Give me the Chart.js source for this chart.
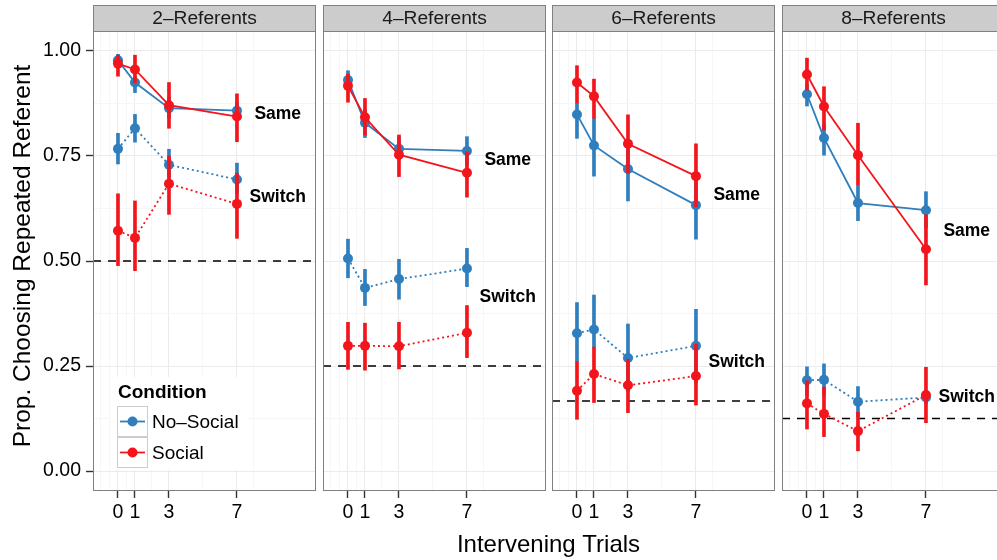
<!DOCTYPE html>
<html><head><meta charset="utf-8">
<script src="https://cdn.jsdelivr.net/npm/chart.js@4.4.1/dist/chart.umd.min.js"></script>
<style>
html,body{margin:0;padding:0;background:#fff;width:997px;height:560px;overflow:hidden;}
canvas{position:absolute;left:0;top:0;}
</style></head><body>
<canvas id="c0" width="1010" height="560"></canvas>
<canvas id="c1" width="1010" height="560"></canvas>
<canvas id="c2" width="1010" height="560"></canvas>
<canvas id="c3" width="1010" height="560"></canvas>
<script>
// ---------------- DATA ----------------
const panelTitles = ['2–Referents', '4–Referents', '6–Referents', '8–Referents'];
const trials = [0, 1, 3, 7];
const chanceLevel = [0.5, 0.25, 0.1667, 0.125];
const yTicks = [0, 0.25, 0.5, 0.75, 1];
const conditions = ['No–Social', 'Social'];
const xTitle = 'Intervening Trials';
const yTitle = 'Prop. Choosing Repeated Referent';
const lineLabels = ['Same', 'Switch'];

// No-Social, Same referent
const noSocialSame     = [[0.978,0.925,0.864,0.858],[0.931,0.829,0.767,0.762],[0.849,0.775,0.719,0.633],[0.897,0.793,0.638,0.621]];
const noSocialSameLow  = [[0.962,0.901,0.840,0.835],[0.910,0.794,0.740,0.728],[0.792,0.702,0.643,0.552],[0.869,0.752,0.596,0.580]];
const noSocialSameHigh = [[0.992,0.940,0.890,0.878],[0.953,0.860,0.795,0.796],[0.874,0.840,0.780,0.700],[0.920,0.825,0.680,0.665]];
// Social, Same referent
const socialSame     = [[0.970,0.956,0.871,0.844],[0.917,0.842,0.753,0.710],[0.925,0.892,0.779,0.702],[0.944,0.868,0.752,0.528]];
const socialSameLow  = [[0.940,0.924,0.816,0.784],[0.878,0.800,0.701,0.652],[0.875,0.840,0.709,0.629],[0.907,0.812,0.681,0.443]];
const socialSameHigh = [[0.990,0.990,0.925,0.898],[0.945,0.887,0.800,0.760],[0.965,0.933,0.848,0.779],[0.983,0.915,0.828,0.610]];
// No-Social, Switch
const noSocialSwitch     = [[0.767,0.816,0.729,0.694],[0.506,0.436,0.457,0.482],[0.328,0.337,0.269,0.298],[0.216,0.217,0.165,0.175]];
const noSocialSwitchLow  = [[0.731,0.783,0.700,0.660],[0.460,0.394,0.409,0.439],[0.260,0.295,0.190,0.210],[0.180,0.180,0.130,0.160]];
const noSocialSwitchHigh = [[0.804,0.849,0.766,0.733],[0.552,0.480,0.504,0.530],[0.401,0.419,0.350,0.385],[0.248,0.255,0.201,0.190]];
// Social, Switch
const socialSwitch     = [[0.572,0.555,0.684,0.636],[0.298,0.298,0.297,0.329],[0.191,0.231,0.204,0.226],[0.161,0.136,0.095,0.181]];
const socialSwitchLow  = [[0.489,0.477,0.611,0.554],[0.242,0.240,0.243,0.270],[0.123,0.163,0.139,0.157],[0.100,0.082,0.048,0.115]];
const socialSwitchHigh = [[0.660,0.643,0.750,0.709],[0.354,0.352,0.354,0.394],[0.260,0.295,0.266,0.302],[0.215,0.200,0.140,0.247]];

// label anchor values (y) for "Same" / "Switch"
const sameLabelY   = [0.850, 0.739, 0.657, 0.572];
const switchLabelY = [0.652, 0.414, 0.258, 0.175];
const labelX = 9.4;

// ---------------- STYLE / LAYOUT ----------------
const FONT = "'Liberation Sans', Arial, Helvetica, sans-serif";
Chart.defaults.font.family = FONT;
const BLUE = '#2F7EBD';
const RED  = '#F3151C';
const W = 1010;
const panelLeft  = [93, 323, 552, 782];
const panelWidth = 223;
const X_MIN = -1.47, X_MAX = 11.65;
const Y_MIN = -0.0476, Y_MAX = 1.0476;
const xGrid = [-1, -0.5, 0, 0.5, 1, 2, 3, 5, 7, 8];
const yGrid = [0, 0.125, 0.25, 0.375, 0.5, 0.625, 0.75, 0.875, 1];
const isXMajor = v => trials.includes(v);
const isYMajor = v => yTicks.some(t => Math.abs(t - v) < 1e-9);

function pts(vals) { return trials.map((t, k) => ({x: t, y: vals[k]})); }
function bars(lo, hi) { return trials.map((t, k) => ({x: t, y: [lo[k], hi[k]]})); }

function lineDs(vals, color, dashed, order) {
  return {type: 'line', data: pts(vals), borderColor: color, backgroundColor: color,
    borderWidth: 1.8, borderDash: dashed ? [2, 3] : [], pointRadius: 5, pointBorderWidth: 0,
    pointBackgroundColor: color, tension: 0, order};
}
function errDs(lo, hi, color, order) {
  return {type: 'bar', data: bars(lo, hi), backgroundColor: color, borderWidth: 0,
    barThickness: 3, grouped: false, order};
}

function facetPlugin(i) {
  return {
    id: 'facet' + i,
    afterDraw(chart) {
      const {ctx, chartArea: a, scales: {x, y}} = chart;
      ctx.save();
      // panel border
      ctx.strokeStyle = '#808080'; ctx.lineWidth = 1;
      ctx.strokeRect(a.left + 0.5, a.top + 0.5, a.right - a.left - 1, a.bottom - a.top - 1);
      // strip
      ctx.fillStyle = '#CCCCCC';
      ctx.fillRect(a.left, 5, a.right - a.left, a.top - 5);
      ctx.strokeRect(a.left + 0.5, 5.5, a.right - a.left - 1, a.top - 5);
      ctx.fillStyle = '#1a1a1a';
      ctx.font = '19.2px ' + FONT;
      ctx.textAlign = 'center'; ctx.textBaseline = 'middle';
      ctx.fillText(panelTitles[i], (a.left + a.right) / 2, 19);
      // Same / Switch labels
      ctx.fillStyle = '#000';
      ctx.font = 'bold 17.5px ' + FONT;
      ctx.fillText(lineLabels[0], x.getPixelForValue(labelX), y.getPixelForValue(sameLabelY[i]));
      ctx.fillText(lineLabels[1], x.getPixelForValue(labelX), y.getPixelForValue(switchLabelY[i]));
      if (i === 0) {
        // legend
        ctx.fillStyle = '#fff';
        ctx.fillRect(110, 377, 137, 93);
        ctx.fillStyle = '#000';
        ctx.textAlign = 'left';
        ctx.font = 'bold 19px ' + FONT;
        ctx.fillText('Condition', 118, 393);
        const cols = [BLUE, RED];
        const keyTop = [406, 437];
        for (let k = 0; k < 2; k++) {
          ctx.fillStyle = '#fff';
          ctx.fillRect(117, keyTop[k], 31, 31);
          ctx.strokeStyle = '#CCCCCC'; ctx.lineWidth = 1;
          ctx.strokeRect(117.5, keyTop[k] + 0.5, 30, 30);
          const cy = keyTop[k] + 15.5;
          ctx.strokeStyle = cols[k]; ctx.lineWidth = 1.8;
          ctx.beginPath(); ctx.moveTo(120, cy); ctx.lineTo(145, cy); ctx.stroke();
          ctx.fillStyle = cols[k];
          ctx.beginPath(); ctx.arc(132.5, cy, 5, 0, Math.PI * 2); ctx.fill();
          ctx.fillStyle = '#000';
          ctx.font = '19px ' + FONT;
          ctx.fillText(conditions[k], 152, cy + 1);
        }
        // axis titles
        ctx.fillStyle = '#000';
        ctx.font = '24px ' + FONT;
        ctx.textAlign = 'center'; ctx.textBaseline = 'alphabetic';
        ctx.fillText(xTitle, 548.5, 552);
        ctx.font = '24.5px ' + FONT;
        ctx.translate(30, 256);
        ctx.rotate(-Math.PI / 2);
        ctx.fillText(yTitle, 0, 0);
      }
      ctx.restore();
    }
  };
}

function makeChart(i) {
  const datasets = [
    {type: 'line', data: [{x: X_MIN, y: chanceLevel[i]}, {x: X_MAX, y: chanceLevel[i]}],
     borderColor: '#000', borderWidth: 1.4, borderDash: [8, 7], pointRadius: 0, order: 20},
    errDs(noSocialSameLow[i], noSocialSameHigh[i], BLUE, 19),
    errDs(noSocialSwitchLow[i], noSocialSwitchHigh[i], BLUE, 18),
    lineDs(noSocialSame[i], BLUE, false, 17),
    lineDs(noSocialSwitch[i], BLUE, true, 16),
    errDs(socialSameLow[i], socialSameHigh[i], RED, 15),
    errDs(socialSwitchLow[i], socialSwitchHigh[i], RED, 14),
    lineDs(socialSame[i], RED, false, 13),
    lineDs(socialSwitch[i], RED, true, 12)
  ];
  const first = i === 0;
  new Chart(document.getElementById('c' + i), {
    type: 'line',
    data: {datasets},
    options: {
      responsive: false, animation: false, devicePixelRatio: 1,
      layout: {padding: {left: first ? 0 : panelLeft[i], right: W - panelLeft[i] - panelWidth, top: 31, bottom: 0}},
      plugins: {legend: {display: false}, tooltip: {enabled: false}},
      events: [],
      scales: {
        x: {
          type: 'linear', min: X_MIN, max: X_MAX, offset: false,
          afterBuildTicks: s => { s.ticks = xGrid.map(v => ({value: v})); },
          afterFit: s => { s.height = 69; },
          ticks: {autoSkip: false, maxRotation: 0, minRotation: 0, padding: 3, color: '#000',
                  font: {family: FONT, size: 19.5},
                  callback: v => isXMajor(v) ? String(v) : ''},
          grid: {offset: false, lineWidth: 1, tickLength: 7, tickWidth: 1.4,
                 color: c => (c.tick && isXMajor(c.tick.value)) ? '#EBEBEB' : '#F6F6F6',
                 tickColor: c => (c.tick && isXMajor(c.tick.value)) ? '#333' : 'rgba(0,0,0,0)'},
          border: {display: false}
        },
        y: {
          type: 'linear', min: Y_MIN, max: Y_MAX,
          afterBuildTicks: s => { s.ticks = yGrid.map(v => ({value: v})); },
          afterFit: s => { s.width = first ? 93 : 0; },
          ticks: {display: first, autoSkip: false, padding: 5, color: '#000',
                  font: {family: FONT, size: 19.5},
                  callback: v => isYMajor(v) ? v.toFixed(2) : ''},
          grid: {lineWidth: 1, tickLength: 7, tickWidth: 1.4, drawTicks: first,
                 color: c => (c.tick && isYMajor(c.tick.value)) ? '#EBEBEB' : '#F6F6F6',
                 tickColor: c => (c.tick && isYMajor(c.tick.value)) ? '#333' : 'rgba(0,0,0,0)'},
          border: {display: false}
        }
      }
    },
    plugins: [facetPlugin(i)]
  });
}
for (let i = 0; i < 4; i++) makeChart(i);
</script>
</body></html>
